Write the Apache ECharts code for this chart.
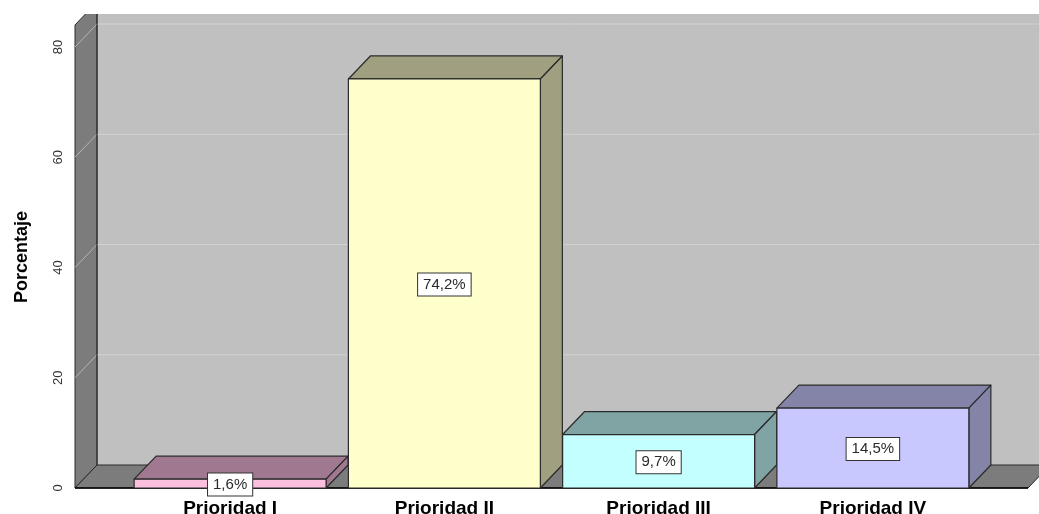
<!DOCTYPE html>
<html>
<head>
<meta charset="utf-8">
<script src="https://cdn.jsdelivr.net/npm/echarts@6/dist/echarts.min.js"></script>
<style>html,body{margin:0;padding:0;background:#fff;}#c{width:1039px;height:514px;}</style>
</head>
<body>
<div id="c"></div>
<script>
var categories = ['Prioridad I', 'Prioridad II', 'Prioridad III', 'Prioridad IV'];
var values = [1.6, 74.2, 9.7, 14.5];
var yTicks = [0, 20, 40, 60, 80];
var yTitle = 'Porcentaje';

var frontColors = ['#fcc0de', '#ffffcc', '#c4ffff', '#c8c8ff'];
var sideColors = ['#a07890', '#a0a080', '#80a4a4', '#8484a8'];
var DX = 22, DY = -23;
var EDGE = '#2a2a2a';

function fmt(v) { return v.toFixed(1).replace('.', ',') + '%'; }

var chart = echarts.init(document.getElementById('c'), null, {renderer: 'canvas'});

function renderWalls(params, api) {
  var cs = params.coordSys;
  var y0 = api.coord([0, 0])[1];
  var yTop = api.coord([0, 84])[1];
  var wl = cs.x - 48;
  var wr = cs.x + cs.width + 48;
  var far = cs.x + cs.width + 120;
  var children = [];
  children.push({type: 'rect', shape: {x: wl + DX, y: yTop + DY, width: far - wl, height: y0 - yTop}, style: {fill: '#c0c0c0'}});
  children.push({type: 'polygon', shape: {points: [[wl, y0], [wl, yTop], [wl + DX, yTop + DY], [wl + DX, y0 + DY]]}, style: {fill: '#7c7c7c', stroke: EDGE, lineWidth: 1}});
  children.push({type: 'polygon', shape: {points: [[wl, y0], [wr, y0], [wr + DX, y0 + DY], [wl + DX, y0 + DY]]}, style: {fill: '#7c7c7c', stroke: EDGE, lineWidth: 1}});
  for (var i = 1; i < yTicks.length; i++) {
    var y = api.coord([0, yTicks[i]])[1];
    children.push({type: 'line', shape: {x1: wl, y1: y, x2: wl + DX, y2: y + DY}, style: {stroke: '#b4b4b4', lineWidth: 1}});
    children.push({type: 'line', shape: {x1: wl + DX, y1: y + DY, x2: far, y2: y + DY}, style: {stroke: '#d2d2d2', lineWidth: 1}});
  }
  children.push({type: 'line', shape: {x1: wl + DX, y1: yTop + DY, x2: wl + DX, y2: y0 + DY}, style: {stroke: EDGE, lineWidth: 1}});
  children.push({type: 'line', shape: {x1: wl, y1: y0, x2: wr, y2: y0}, style: {stroke: '#000', lineWidth: 1.5}});
  children.push({type: 'rect', shape: {x: 0, y: 0, width: far + 50, height: cs.y - 33}, style: {fill: '#fff'}});
  return {type: 'group', children: children};
}

function renderBar(params, api) {
  var idx = api.value(0);
  var v = api.value(1);
  var top = api.coord([idx, v]);
  var base = api.coord([idx, 0]);
  var w = api.size([1, 0])[0] * 0.896;
  var L = top[0] - w / 2, R = top[0] + w / 2;
  var t = top[1], b = base[1];
  var st = {stroke: EDGE, lineWidth: 1.2, lineJoin: 'round'};
  return {type: 'group', children: [
    {type: 'polygon', shape: {points: [[L, t], [R, t], [R + DX, t + DY], [L + DX, t + DY]]}, style: Object.assign({fill: sideColors[idx]}, st)},
    {type: 'polygon', shape: {points: [[R, t], [R + DX, t + DY], [R + DX, b + DY], [R, b]]}, style: Object.assign({fill: sideColors[idx]}, st)},
    {type: 'rect', shape: {x: L, y: t, width: w, height: b - t}, style: Object.assign({fill: frontColors[idx]}, st)},
    {type: 'text', x: top[0], y: (t + b) / 2 + 1, style: {
      text: fmt(v), align: 'center', verticalAlign: 'middle',
      font: '15px "Liberation Sans", Arial, sans-serif', fill: '#2a2a2a',
      backgroundColor: '#ffffff', borderColor: '#333', borderWidth: 1, padding: [4, 5, 3, 5]
    }}
  ]};
}

chart.setOption({
  animation: false,
  backgroundColor: '#ffffff',
  grid: {left: 123, right: 59, top: 47, bottom: 26, containLabel: false, outerBoundsMode: 'none'},
  graphic: [{
    type: 'text', x: 22, y: 257, rotation: Math.PI / 2,
    style: {text: yTitle, align: 'center', verticalAlign: 'middle', fill: '#000',
      font: 'bold 18px "Liberation Sans", Arial, sans-serif'}
  }],
  xAxis: {
    type: 'category', data: categories, boundaryGap: true,
    axisLine: {show: false}, axisTick: {show: false},
    axisLabel: {margin: 11, fontSize: 19, lineHeight: 19, fontWeight: 'bold', color: '#000', fontFamily: '"Liberation Sans", Arial, sans-serif'}
  },
  yAxis: {
    type: 'value', min: 0, max: 80, interval: 20,
    axisLine: {show: false}, axisTick: {show: false}, splitLine: {show: false},
    axisLabel: {rotate: 90, margin: 58, fontSize: 13, color: '#333', fontFamily: '"Liberation Sans", Arial, sans-serif',
      formatter: function (v) { return yTicks.indexOf(v) >= 0 ? String(v) : ''; }}
  },
  series: [
    {type: 'custom', renderItem: renderWalls, data: [[0, 0]], clip: false, z: 1, silent: true},
    {type: 'custom', renderItem: renderBar, clip: false, z: 2,
      data: values.map(function (v, i) { return [i, v]; })}
  ]
});
</script>
</body>
</html>
